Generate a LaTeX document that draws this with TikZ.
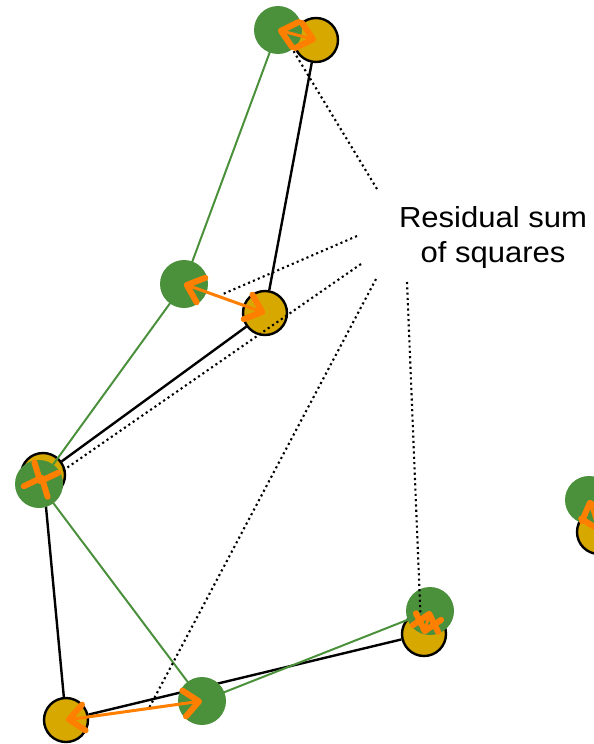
\documentclass[tikz,border=0pt]{standalone}
\usepackage{fontspec}
\setmainfont{Liberation Sans}
\usetikzlibrary{arrows.meta,calc}
\definecolor{dgreen}{RGB}{75,145,60}
\definecolor{dyellow}{RGB}{214,168,0}
\definecolor{orng}{RGB}{255,128,0}
\begin{document}
\begin{tikzpicture}[x=1pt,y=-1pt,
  yel/.style={circle,draw=black,fill=dyellow,line width=2.4pt,minimum size=44pt,inner sep=0pt},
  grn/.style={circle,fill=dgreen,minimum size=48pt,inner sep=0pt},
  blk/.style={line width=2.4pt,black},
  gln/.style={line width=2pt,dgreen},
  dotl/.style={line width=2.1pt,dash pattern=on 2.1pt off 3.2pt},
  barb/.tip={Straight Barb[length=15pt,width=26pt,line width=6pt 0 0,round]},
  res/.style={orng,line width=3pt,barb-barb}
]
\useasboundingbox (0,0) rectangle (594,744);
\clip (0,0) rectangle (594,744);
% yellow points
\node[yel] (y1) at (316,40) {};
\node[yel] (y2) at (265,313) {};
\node[yel] (y3) at (43,475) {};
\node[yel] (y4) at (66,720) {};
\node[yel] (y5) at (424,634) {};
\node[yel] (y6) at (599,532) {};
% black polygon
\draw[blk] (y1) -- (y2) -- (y3) -- (y4) -- (y5);
% green polygon
\coordinate (cg1) at (278,30);
\coordinate (cg2) at (184,284);
\coordinate (cg3) at (39,484);
\coordinate (cg4) at (202,701);
\coordinate (cg5) at (430,611);
\coordinate (cg6) at (589,500);
\draw[gln] (cg1) -- (cg2) -- (cg3) -- (cg4) -- (cg5);
% green points
\node[grn] (g1) at (cg1) {};
\node[grn] (g2) at (cg2) {};
\node[grn] (g3) at (cg3) {};
\node[grn] (g4) at (cg4) {};
\node[grn] (g5) at (cg5) {};
\node[grn] (g6) at (cg6) {};
% label
\node[font=\fontsize{29}{35}\selectfont\addfontfeature{FakeStretch=1.07}, align=center, anchor=base] (lbl) at (493,262) {Residual sum\\of squares};
% dotted leaders
\coordinate (s1) at (377,189);
\coordinate (s2) at (357,236);
\coordinate (s3) at (361,264);
\coordinate (s4) at (376,279);
\coordinate (s5) at (407,282);
\coordinate (e1) at (285,37);
\coordinate (e2) at (223,294);
\coordinate (e3) at (58,474);
\coordinate (e4) at (148,710);
\coordinate (e5) at (421,628);
\draw[dotl] (s1) -- (e1);
\draw[dotl] (s2) -- (e2);
\draw[dotl] (s3) -- (e3);
\draw[dotl] (s4) -- (e4);
\draw[dotl] (s5) -- (e5);
% residual arrows
\draw[res] (g1.center) -- (y1.center);
\draw[res] (g2.center) -- (y2.center);
\draw[res] (g3.center) -- (y3.center);
\draw[res] (g4.center) -- (y4.center);
\draw[res] (g5.center) -- (y5.center);
\draw[res] (g6.center) -- (y6.center);
\end{tikzpicture}
\end{document}
